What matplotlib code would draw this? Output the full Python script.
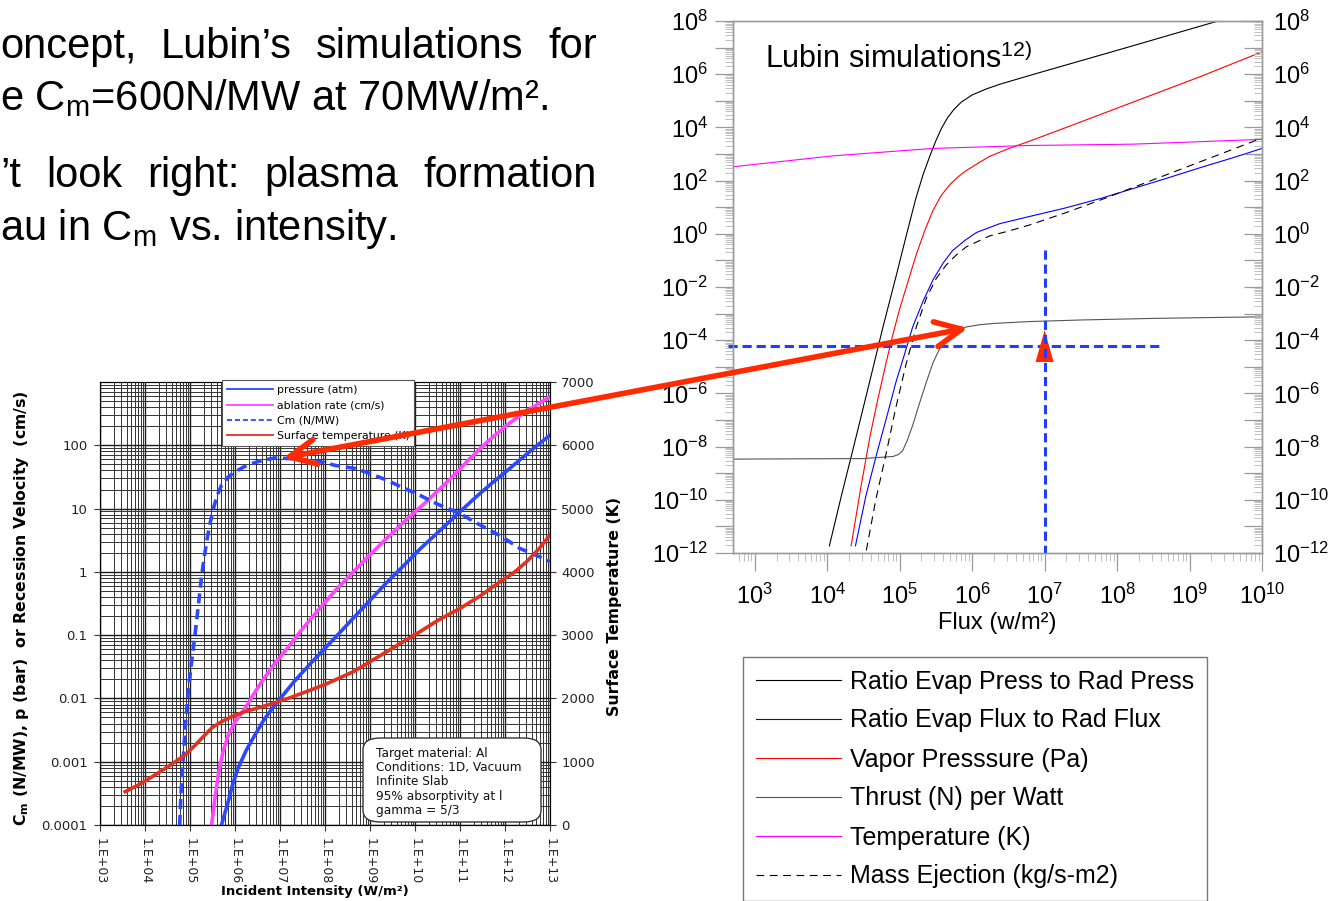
import matplotlib
matplotlib.use("Agg")
import matplotlib.pyplot as plt
import numpy as np
from matplotlib.patches import FancyArrowPatch, FancyBboxPatch
from matplotlib.ticker import (FixedFormatter, FixedLocator, FuncFormatter,
                               LogLocator, NullFormatter)

plt.rcParams["mathtext.fontset"] = "dejavusans"

# =====================================
# SLIDE TEXT
# =====================================
slide_line1 = ["oncept,", "Lubin\u2019s", "simulations", "for"]
slide_line2 = "e C$_\\mathdefault{m}$=600N/MW at 70MW/m\u00b2."
slide_line3 = ["\u2019t", "look", "right:", "plasma", "formation"]
slide_line4 = "au in C$_\\mathdefault{m}$ vs. intensity."

# =====================================
# LEFT CHART DATA (log10 intensity W/m2 -> log10 value)
# =====================================
left_xtick_exp = list(range(3, 14))
left_xtick_labels = ["1.E+03", "1.E+04", "1.E+05", "1.E+06", "1.E+07", "1.E+08",
                     "1.E+09", "1.E+10", "1.E+11", "1.E+12", "1.E+13"]
left_ytick_exp = list(range(-4, 3))
left_ytick_labels = ["0.0001", "0.001", "0.01", "0.1", "1", "10", "100"]
temp_ticks = [0, 1000, 2000, 3000, 4000, 5000, 6000, 7000]

cm_x = [4.77, 4.80, 4.85, 4.90, 4.96, 5.03, 5.11, 5.19, 5.26, 5.32, 5.37, 5.44,
        5.52, 5.60, 5.70, 5.85, 6.0, 6.2, 6.37, 6.6, 6.89, 7.2, 7.62, 7.9, 8.24,
        8.63, 8.94, 9.37, 9.7, 10.11, 10.5, 11.0, 11.4, 11.74, 12.05, 12.33,
        12.7, 13.0]
cm_y = [-4.0, -3.5, -2.94, -2.4, -1.9, -1.45, -1.0, -0.5, -0.05, 0.25, 0.48, 0.75,
        1.0, 1.2, 1.37, 1.5, 1.58, 1.66, 1.71, 1.76, 1.80, 1.79, 1.76, 1.74, 1.68,
        1.64, 1.57, 1.45, 1.34, 1.21, 1.07, 0.92, 0.76, 0.63, 0.5, 0.37, 0.26, 0.16]

press_x = [5.70, 5.78, 5.85, 5.95, 6.07, 6.25, 6.44, 6.65, 6.89, 7.1, 7.33, 7.65,
           7.89, 8.25, 8.63, 9.0, 9.37, 9.75, 10.11, 10.55, 11.0, 11.35, 11.74,
           12.05, 12.33, 12.65, 13.0]
press_y = [-4.0, -3.8, -3.63, -3.35, -3.1, -2.82, -2.58, -2.33, -2.1, -1.92, -1.72,
           -1.47, -1.29, -1.02, -0.73, -0.45, -0.17, 0.1, 0.36, 0.65, 0.95, 1.18,
           1.42, 1.6, 1.77, 1.96, 2.16]

abl_x = [5.48, 5.55, 5.63, 5.73, 5.85, 6.0, 6.22, 6.4, 6.59, 6.85, 7.18, 7.5, 7.89,
         8.25, 8.63, 9.0, 9.37, 9.85, 10.33, 10.8, 11.22, 11.6, 12.04, 12.5, 13.0]
abl_y = [-4.0, -3.6, -3.2, -2.85, -2.58, -2.37, -2.16, -1.95, -1.74, -1.48, -1.19,
         -0.9, -0.57, -0.28, 0.0, 0.27, 0.53, 0.85, 1.16, 1.48, 1.79, 2.05, 2.32,
         2.55, 2.77]

temp_x = [3.56, 3.9, 4.22, 4.55, 4.89, 5.1, 5.33, 5.5, 5.70, 5.95, 6.22, 6.7, 7.18,
          7.6, 8.0, 8.63, 9.37, 10.11, 10.5, 11.0, 11.45, 11.89, 12.2, 12.48,
          12.75, 13.0]
temp_k = [527, 650, 790, 940, 1106, 1250, 1422, 1545, 1632, 1720, 1790, 1890, 2001,
          2110, 2220, 2422, 2738, 3054, 3230, 3422, 3620, 3843, 3990, 4160, 4360,
          4581]

left_legend_labels = ["pressure (atm)", "ablation rate (cm/s)", "Cm (N/MW)",
                      "Surface temperature (K)"]
note_lines = ["Target material: Al", "Conditions: 1D, Vacuum", "Infinite Slab",
              "95% absorptivity at l", "gamma = 5/3"]

# =====================================
# RIGHT CHART DATA (log10 flux w/m2 -> log10 value)
# =====================================
right_xtick_exp = list(range(3, 11))
right_ytick_exp = list(range(-12, 9))

evp_x = [4.03, 4.2, 4.40, 4.6, 4.77, 4.95, 5.09, 5.22, 5.32, 5.42, 5.5, 5.58, 5.66,
         5.75, 5.85, 6.0, 6.2, 6.38, 6.79, 7.30, 7.8, 8.22, 8.8, 9.33, 9.4]
evp_y = [-11.73, -9.8, -7.62, -5.4, -3.5, -1.6, -0.08, 1.3, 2.2, 2.95, 3.5, 3.98,
         4.36, 4.68, 4.95, 5.22, 5.45, 5.62, 5.95, 6.35, 6.74, 7.07, 7.53, 7.95,
         8.0]

evf_x = [4.39, 4.53, 4.68, 4.82, 4.95, 5.07, 5.18, 5.32, 5.46, 5.6, 5.73, 5.9, 6.06,
         6.38, 6.79, 7.30, 7.8, 8.22, 8.7, 9.14, 9.6, 10.0]
evf_y = [-11.73, -9.9, -8.3, -6.9, -5.56, -4.5, -3.5, -2.55, -1.73, -1.1, -0.63,
         -0.25, 0.05, 0.38, 0.65, 0.98, 1.35, 1.7, 2.1, 2.48, 2.86, 3.21]

vap_x = [4.33, 4.46, 4.59, 4.7, 4.81, 4.9, 5.0, 5.12, 5.23, 5.35, 5.46, 5.57, 5.69,
         5.8, 5.92, 6.08, 6.24, 6.5, 6.79, 7.30, 8.22, 9.14, 10.0]
vap_y = [-11.73, -9.6, -7.62, -6.2, -4.88, -3.85, -2.82, -1.75, -0.77, 0.15, 0.88,
         1.43, 1.84, 2.13, 2.38, 2.65, 2.91, 3.2, 3.48, 4.0, 4.95, 5.9, 6.84]

thr_x = [2.7, 4.5, 4.91, 4.98, 5.04, 5.1, 5.18, 5.27, 5.37, 5.46, 5.55, 5.64, 5.73,
         5.83, 5.92, 6.1, 6.29, 6.79, 7.5, 8.5, 10.0]
thr_y = [-8.47, -8.45, -8.37, -8.3, -8.16, -7.8, -7.2, -6.4, -5.56, -4.85, -4.33,
         -4.0, -3.78, -3.62, -3.5, -3.42, -3.37, -3.30, -3.24, -3.18, -3.12]

tk_x = [2.7, 4.08, 5.46, 6.79, 8.22, 10.0]
tk_y = [2.52, 2.93, 3.21, 3.32, 3.37, 3.55]

mass_x = [4.54, 4.67, 4.81, 4.95, 5.09, 5.23, 5.37, 5.5, 5.64, 5.78, 5.92, 6.24, 6.5,
          6.79, 7.30, 7.8, 8.22, 8.7, 9.14, 9.6, 10.0]
mass_y = [-11.9, -10.0, -8.3, -6.5, -4.88, -3.5, -2.41, -1.7, -1.18, -0.8, -0.49,
          -0.08, 0.1, 0.33, 0.8, 1.3, 1.74, 2.24, 2.7, 3.18, 3.6]

right_legend_labels = ["Ratio Evap Press to Rad Press", "Ratio Evap Flux to Rad Flux",
                       "Vapor Presssure (Pa)", "Thrust (N) per Watt",
                       "Temperature (K)", "Mass Ejection (kg/s-m2)"]

# hand-drawn overlay on the right chart
cross_flux = 1e7
cross_level = 6e-5
cross_h_span = [430, 3.9e8]
cross_v_span = [0.25, 1e-12]
red_tip = [1.5e-5, 2.4e-4]


def lg(v):
    return 10 ** np.asarray(v, dtype=float)


W, H = 1335, 901
fig = plt.figure(figsize=(W / 100, H / 100), dpi=100)


def fx(px):
    return px / W


def fy(py):
    return 1 - py / H


# =====================================
# SLIDE TEXT
# =====================================
SLIDE = dict(family="Liberation Sans", size=30, color="black")


def justify(words, base, x0=0, x1=597):
    texts = [fig.text(0, fy(base), w, ha="left", va="baseline", **SLIDE)
             for w in words]
    rend = fig.canvas.get_renderer()
    widths = [t.get_window_extent(rend).width for t in texts]
    gap = (x1 - x0 - sum(widths)) / (len(words) - 1)
    x = x0
    for t, w in zip(texts, widths):
        t.set_x(fx(x))
        x += w + gap


justify(slide_line1, 58)
fig.text(0, fy(110), slide_line2, ha="left", va="baseline", **SLIDE)
justify(slide_line3, 187)
fig.text(0, fy(240), slide_line4, ha="left", va="baseline", **SLIDE)

# =====================================
# LEFT CHART
# =====================================
BLUE = "#2b48ff"
MAG = "#ff45ff"
RED = "#e3311f"

axL = fig.add_axes([fx(100), fy(825), 450 / W, 443 / H])
axL.set_xscale("log")
axL.set_yscale("log")
axL.set_xlim(1e3, 1e13)
axL.set_ylim(1e-4, 1e3)

axL.xaxis.set_major_locator(FixedLocator(lg(left_xtick_exp)))
axL.xaxis.set_major_formatter(FixedFormatter(left_xtick_labels))
axL.xaxis.set_minor_locator(LogLocator(base=10, subs=np.arange(2, 10), numticks=40))
axL.xaxis.set_minor_formatter(NullFormatter())
axL.yaxis.set_major_locator(FixedLocator(lg(left_ytick_exp)))
axL.yaxis.set_major_formatter(FixedFormatter(left_ytick_labels))
axL.yaxis.set_minor_locator(LogLocator(base=10, subs=np.arange(2, 10), numticks=40))
axL.yaxis.set_minor_formatter(NullFormatter())

axL.grid(True, which="major", color="#1a1a1a", lw=1.0)
axL.grid(True, which="minor", color="#333333", lw=0.7)
axL.tick_params(which="major", length=4, color="#333", labelsize=9.5,
                labelcolor="#222")
axL.tick_params(which="minor", length=0)
axL.tick_params(axis="x", labelrotation=270, pad=5, labelsize=9)
axL.tick_params(axis="y", pad=5)
for s in axL.spines.values():
    s.set_color("#222")

l_press, = axL.plot(lg(press_x), lg(press_y), color=BLUE, lw=2.6)
l_abl, = axL.plot(lg(abl_x), lg(abl_y), color=MAG, lw=2.6)
l_cm, = axL.plot(lg(cm_x), lg(cm_y), color=BLUE, lw=2.6, ls=(0, (2.8, 1.6)))

fig.text(fx(315), fy(892), "Incident Intensity (W/m\u00b2)", fontsize=9.5,
         fontweight="bold", ha="center", va="center")
fig.text(fx(22), fy(608),
         "C$_\\mathdefault{m}$ (N/MW), p (bar)  or Recession Velocity  (cm/s)",
         fontsize=11.3, fontweight="bold", rotation=90, ha="center", va="center")

axT = axL.twinx()
axT.set_ylim(0, 7000)
axT.yaxis.set_major_locator(FixedLocator(temp_ticks))
axT.tick_params(length=4, color="#333", labelsize=9.5, labelcolor="#222", pad=4)
l_temp, = axT.plot(lg(temp_x), temp_k, color=RED, lw=2.6)
fig.text(fx(615), fy(606), "Surface Temperature (K)", fontsize=11.3,
         fontweight="bold", rotation=90, ha="center", va="center")

legL = axT.legend([l_press, l_abl, l_cm, l_temp], left_legend_labels,
                  loc="upper left", bbox_to_anchor=(fx(222), fy(380)),
                  bbox_transform=fig.transFigure, borderaxespad=0, fontsize=7.8,
                  handlelength=4.3, handletextpad=0.3, labelspacing=0.5,
                  fancybox=False, framealpha=1, edgecolor="#555", borderpad=0.45)
legL.get_frame().set_linewidth(0.8)
for ln in legL.get_lines():
    ln.set_linewidth(1.3)

note_box = FancyBboxPatch((fx(363), fy(822)), 178 / W, 84 / H,
                          boxstyle="round,pad=0,rounding_size=0.013",
                          transform=fig.transFigure, fc="white", ec="#333",
                          lw=1.0, zorder=4)
fig.add_artist(note_box)
fig.text(fx(376), fy(747), "\n".join(note_lines), ha="left", va="top",
         fontsize=8.7, linespacing=1.12, color="#111", zorder=5)

# =====================================
# RIGHT CHART
# =====================================
GRAY = "#9a9a9a"
RF = "Liberation Sans"

axR = fig.add_axes([fx(733), fy(553), 529 / W, 532 / H])
axR.set_xscale("log")
axR.set_yscale("log")
axR.set_xlim(10 ** 2.7, 1e10)
axR.set_ylim(1e-12, 1e8)


def sci_label(v, pos):
    e = int(round(np.log10(v)))
    if e % 2:
        return ""
    return "$\\mathdefault{10^{%d}}$" % e


axR.xaxis.set_major_locator(FixedLocator(lg(right_xtick_exp)))
axR.xaxis.set_major_formatter(FuncFormatter(lambda v, p: "$\\mathdefault{10^{%d}}$"
                                            % int(round(np.log10(v)))))
axR.xaxis.set_minor_locator(LogLocator(base=10, subs=np.arange(2, 10), numticks=40))
axR.xaxis.set_minor_formatter(NullFormatter())
axR.yaxis.set_major_locator(FixedLocator(lg(right_ytick_exp)))
axR.yaxis.set_major_formatter(FuncFormatter(sci_label))
axR.yaxis.set_minor_locator(LogLocator(base=10, subs=np.arange(2, 10), numticks=40))
axR.yaxis.set_minor_formatter(NullFormatter())

axR.tick_params(which="major", direction="out", length=13, width=0.9, color=GRAY,
                labelsize=17, labelfontfamily=RF)
axR.tick_params(which="minor", direction="out", length=6, width=0.6,
                color="#b5b5b5")
axR.tick_params(axis="y", pad=5)
axR.tick_params(axis="x", pad=9)

axR2 = axR.twinx()
axR2.set_yscale("log")
axR2.set_ylim(1e-12, 1e8)
axR2.yaxis.set_major_locator(FixedLocator(lg(right_ytick_exp)))
axR2.yaxis.set_major_formatter(FuncFormatter(sci_label))
axR2.yaxis.set_minor_locator(LogLocator(base=10, subs=np.arange(2, 10), numticks=40))
axR2.yaxis.set_minor_formatter(NullFormatter())
axR2.tick_params(which="major", direction="in", length=13, width=0.9, color=GRAY,
                 labelsize=17, labelfontfamily=RF, pad=8)
axR2.tick_params(which="minor", direction="in", length=6, width=0.6,
                 color="#b5b5b5")
for a in (axR, axR2):
    for s in a.spines.values():
        s.set_color(GRAY)
        s.set_linewidth(1.0)

r_evp, = axR.plot(lg(evp_x), lg(evp_y), color="black", lw=0.8)
r_evf, = axR.plot(lg(evf_x), lg(evf_y), color="#0000ff", lw=0.8)
r_vap, = axR.plot(lg(vap_x), lg(vap_y), color="#ff0000", lw=0.8)
r_thr, = axR.plot(lg(thr_x), lg(thr_y), color="#555555", lw=0.8)
r_tk, = axR.plot(lg(tk_x), lg(tk_y), color="#ff00ff", lw=0.8)
r_mass, = axR.plot(lg(mass_x), lg(mass_y), color="black", lw=0.8,
                   ls=(0, (7, 5)))

axR.set_xlabel("Flux (w/m\u00b2)", fontsize=17, family=RF, labelpad=2)
fig.text(fx(765), fy(68), "Lubin simulations$^{\\mathdefault{12)}}$",
         family=RF, fontsize=22, ha="left", va="baseline")

# overlay: blue crosshair and red pointer
axR.plot(cross_h_span, [cross_level, cross_level], color="#1f3cff", lw=2.2,
         ls=(0, (3, 1.6)), clip_on=False, zorder=6)
axR.annotate("", xy=(cross_flux, red_tip[1]), xytext=(cross_flux, red_tip[0]),
             arrowprops=dict(arrowstyle="-|>,head_length=2.3,head_width=0.65",
                             mutation_scale=10, color="#ff2a00", lw=0,
                             shrinkA=0, shrinkB=0), zorder=6)
axR.plot([cross_flux, cross_flux], cross_v_span, color="#1f3cff", lw=2.2,
         ls=(0, (3, 1.6)), clip_on=False, zorder=7)

legR = fig.legend([r_evp, r_evf, r_vap, r_thr, r_tk, r_mass], right_legend_labels,
                  loc="upper left", bbox_to_anchor=(fx(743), fy(657)),
                  bbox_transform=fig.transFigure, borderaxespad=0,
                  prop=dict(family=RF, size=18), handlelength=3.4,
                  handletextpad=0.4, labelspacing=0.6, borderpad=0.5,
                  fancybox=False, framealpha=1, edgecolor="#777")
legR.get_frame().set_linewidth(1.0)

# big red double arrow between the two charts
big = FancyArrowPatch(posA=(fx(968), fy(328)), posB=(fx(283), fy(458)),
                      transform=fig.transFigure,
                      arrowstyle="<->,head_length=1.9,head_width=0.9",
                      mutation_scale=10, lw=4, color="#ff2a00", zorder=20,
                      shrinkA=0, shrinkB=0)
fig.add_artist(big)

fig.savefig("out.png", dpi=100)
